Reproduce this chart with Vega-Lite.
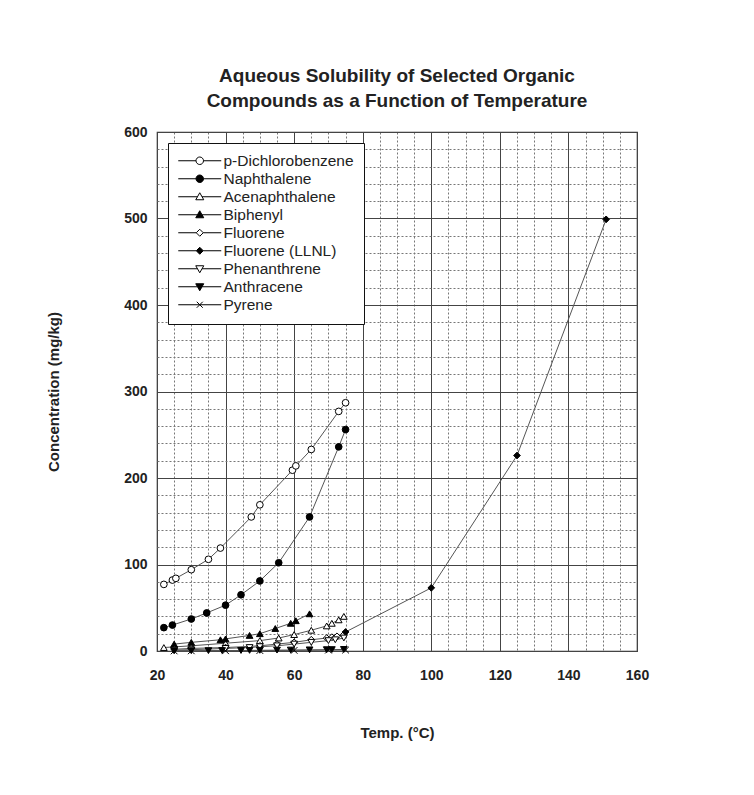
{
  "$schema": "https://vega.github.io/schema/vega-lite/v6.json",
  "autosize": "none",
  "width": 480,
  "height": 519,
  "padding": {"left": 157, "top": 132, "right": 117, "bottom": 144},
  "background": "white",
  "config": {"font": "Liberation Sans", "view": {"stroke": "#333", "strokeWidth": 1.2}},
  "title": {
    "text": ["Aqueous Solubility of Selected Organic", "Compounds as a Function of Temperature"],
    "fontSize": 19, "fontWeight": "bold", "color": "#222", "anchor": "middle", "offset": 14, "lineHeight": 25
  },
  "data": {"values": [
    {"compound": "p-Dichlorobenzene", "temp": 22, "conc": 77},
    {"compound": "p-Dichlorobenzene", "temp": 24.5, "conc": 82},
    {"compound": "p-Dichlorobenzene", "temp": 25.5, "conc": 84},
    {"compound": "p-Dichlorobenzene", "temp": 30, "conc": 94},
    {"compound": "p-Dichlorobenzene", "temp": 35, "conc": 106},
    {"compound": "p-Dichlorobenzene", "temp": 38.5, "conc": 119},
    {"compound": "p-Dichlorobenzene", "temp": 47.5, "conc": 155},
    {"compound": "p-Dichlorobenzene", "temp": 50, "conc": 169},
    {"compound": "p-Dichlorobenzene", "temp": 59.5, "conc": 209},
    {"compound": "p-Dichlorobenzene", "temp": 60.5, "conc": 214},
    {"compound": "p-Dichlorobenzene", "temp": 65, "conc": 233},
    {"compound": "p-Dichlorobenzene", "temp": 73, "conc": 277},
    {"compound": "p-Dichlorobenzene", "temp": 75, "conc": 287},
    {"compound": "Naphthalene", "temp": 22, "conc": 27},
    {"compound": "Naphthalene", "temp": 24.5, "conc": 30},
    {"compound": "Naphthalene", "temp": 30, "conc": 37},
    {"compound": "Naphthalene", "temp": 34.5, "conc": 44},
    {"compound": "Naphthalene", "temp": 40, "conc": 53},
    {"compound": "Naphthalene", "temp": 44.5, "conc": 65},
    {"compound": "Naphthalene", "temp": 50, "conc": 81},
    {"compound": "Naphthalene", "temp": 55.5, "conc": 102},
    {"compound": "Naphthalene", "temp": 64.5, "conc": 155},
    {"compound": "Naphthalene", "temp": 73, "conc": 236},
    {"compound": "Naphthalene", "temp": 75, "conc": 256},
    {"compound": "Acenaphthalene", "temp": 22, "conc": 4},
    {"compound": "Acenaphthalene", "temp": 30, "conc": 6},
    {"compound": "Acenaphthalene", "temp": 40, "conc": 9},
    {"compound": "Acenaphthalene", "temp": 50, "conc": 12},
    {"compound": "Acenaphthalene", "temp": 55.5, "conc": 15},
    {"compound": "Acenaphthalene", "temp": 60, "conc": 19},
    {"compound": "Acenaphthalene", "temp": 65, "conc": 24},
    {"compound": "Acenaphthalene", "temp": 69.5, "conc": 29},
    {"compound": "Acenaphthalene", "temp": 71, "conc": 32},
    {"compound": "Acenaphthalene", "temp": 73, "conc": 36},
    {"compound": "Acenaphthalene", "temp": 74.5, "conc": 40},
    {"compound": "Biphenyl", "temp": 25, "conc": 8},
    {"compound": "Biphenyl", "temp": 30, "conc": 10},
    {"compound": "Biphenyl", "temp": 38.5, "conc": 13},
    {"compound": "Biphenyl", "temp": 40, "conc": 14},
    {"compound": "Biphenyl", "temp": 47, "conc": 18},
    {"compound": "Biphenyl", "temp": 50, "conc": 20},
    {"compound": "Biphenyl", "temp": 54.5, "conc": 26},
    {"compound": "Biphenyl", "temp": 59, "conc": 32},
    {"compound": "Biphenyl", "temp": 60.5, "conc": 35},
    {"compound": "Biphenyl", "temp": 64.5, "conc": 43},
    {"compound": "Fluorene", "temp": 25, "conc": 2},
    {"compound": "Fluorene", "temp": 30, "conc": 3},
    {"compound": "Fluorene", "temp": 40, "conc": 4},
    {"compound": "Fluorene", "temp": 50, "conc": 6},
    {"compound": "Fluorene", "temp": 55, "conc": 8},
    {"compound": "Fluorene", "temp": 60, "conc": 10},
    {"compound": "Fluorene", "temp": 65, "conc": 13},
    {"compound": "Fluorene", "temp": 69.5, "conc": 15},
    {"compound": "Fluorene", "temp": 71, "conc": 16},
    {"compound": "Fluorene", "temp": 72.5, "conc": 17},
    {"compound": "Fluorene", "temp": 74.5, "conc": 19},
    {"compound": "Fluorene (LLNL)", "temp": 75, "conc": 22},
    {"compound": "Fluorene (LLNL)", "temp": 100, "conc": 73},
    {"compound": "Fluorene (LLNL)", "temp": 125, "conc": 226},
    {"compound": "Fluorene (LLNL)", "temp": 151, "conc": 499},
    {"compound": "Phenanthrene", "temp": 25, "conc": 1},
    {"compound": "Phenanthrene", "temp": 30, "conc": 1.5},
    {"compound": "Phenanthrene", "temp": 40, "conc": 3},
    {"compound": "Phenanthrene", "temp": 47, "conc": 4},
    {"compound": "Phenanthrene", "temp": 50, "conc": 5},
    {"compound": "Phenanthrene", "temp": 55, "conc": 6},
    {"compound": "Phenanthrene", "temp": 60, "conc": 8},
    {"compound": "Phenanthrene", "temp": 65, "conc": 10},
    {"compound": "Phenanthrene", "temp": 70, "conc": 12},
    {"compound": "Phenanthrene", "temp": 72, "conc": 13},
    {"compound": "Phenanthrene", "temp": 74.5, "conc": 15},
    {"compound": "Anthracene", "temp": 25, "conc": 0.2},
    {"compound": "Anthracene", "temp": 30, "conc": 0.3},
    {"compound": "Anthracene", "temp": 35, "conc": 0.4},
    {"compound": "Anthracene", "temp": 39, "conc": 0.5},
    {"compound": "Anthracene", "temp": 44.5, "conc": 0.6},
    {"compound": "Anthracene", "temp": 47, "conc": 0.7},
    {"compound": "Anthracene", "temp": 50, "conc": 0.8},
    {"compound": "Anthracene", "temp": 55, "conc": 1},
    {"compound": "Anthracene", "temp": 59, "conc": 1.1},
    {"compound": "Anthracene", "temp": 64.5, "conc": 1.3},
    {"compound": "Anthracene", "temp": 69.5, "conc": 1.5},
    {"compound": "Anthracene", "temp": 71, "conc": 1.6},
    {"compound": "Anthracene", "temp": 74.5, "conc": 1.8},
    {"compound": "Pyrene", "temp": 25, "conc": 0.1},
    {"compound": "Pyrene", "temp": 30, "conc": 0.2},
    {"compound": "Pyrene", "temp": 40, "conc": 0.3},
    {"compound": "Pyrene", "temp": 50, "conc": 0.5},
    {"compound": "Pyrene", "temp": 60, "conc": 0.7},
    {"compound": "Pyrene", "temp": 70, "conc": 1},
    {"compound": "Pyrene", "temp": 75, "conc": 1.1}
  ]},
  "encoding": {
    "x": {
      "field": "temp", "type": "quantitative",
      "scale": {"domain": [20, 160], "nice": false},
      "axis": {
        "values": [20,25,30,35,40,45,50,55,60,65,70,75,80,85,90,95,100,105,110,115,120,125,130,135,140,145,150,155,160],
        "labelExpr": "datum.value % 20 === 0 ? datum.label : ''",
        "grid": true,
        "gridColor": {"condition": {"test": "datum.value % 20 === 0", "value": "#444"}, "value": "#777"},
        "gridDash": {"condition": {"test": "datum.value % 20 === 0", "value": []}, "value": [2, 2]},
        "gridWidth": 1,
        "ticks": false, "domain": false,
        "labelFlush": false, "labelBound": false, "labelOverlap": false,
        "labelFontSize": 14, "labelFontWeight": "bold", "labelColor": "#222", "labelPadding": 17,
        "title": "Temp. (°C)", "titleFontSize": 15, "titleFontWeight": "bold", "titleColor": "#222", "titlePadding": 43
      }
    },
    "y": {
      "field": "conc", "type": "quantitative",
      "scale": {"domain": [0, 600], "nice": false},
      "axis": {
        "values": [0,20,40,60,80,100,120,140,160,180,200,220,240,260,280,300,320,340,360,380,400,420,440,460,480,500,520,540,560,580,600],
        "labelExpr": "datum.value % 100 === 0 ? datum.label : ''",
        "grid": true,
        "gridColor": {"condition": {"test": "datum.value % 100 === 0", "value": "#444"}, "value": "#777"},
        "gridDash": {"condition": {"test": "datum.value % 100 === 0", "value": []}, "value": [2, 2]},
        "gridWidth": 1,
        "ticks": false, "domain": false,
        "labelFlush": false, "labelBound": false, "labelOverlap": false,
        "labelFontSize": 14, "labelFontWeight": "bold", "labelColor": "#222", "labelPadding": 10,
        "title": "Concentration  (mg/kg)", "titleFontSize": 15, "titleFontWeight": "bold", "titleColor": "#222", "titlePadding": 62
      }
    }
  },
  "layer": [
    {
      "mark": {"type": "line", "color": "#555", "strokeWidth": 1},
      "encoding": {"detail": {"field": "compound"}}
    },
    {
      "mark": {"type": "point", "stroke": "black", "strokeWidth": 1, "opacity": 1, "size": 45},
      "encoding": {
        "shape": {
          "field": "compound", "type": "nominal",
          "scale": {
            "domain": ["p-Dichlorobenzene", "Naphthalene", "Acenaphthalene", "Biphenyl", "Fluorene", "Fluorene (LLNL)", "Phenanthrene", "Anthracene", "Pyrene"],
            "range": ["circle", "circle", "triangle-up", "triangle-up", "diamond", "diamond", "triangle-down", "triangle-down", "M-1,-1L1,1M-1,1L1,-1"]
          },
          "legend": null
        },
        "fill": {
          "field": "compound", "type": "nominal",
          "scale": {
            "domain": ["p-Dichlorobenzene", "Naphthalene", "Acenaphthalene", "Biphenyl", "Fluorene", "Fluorene (LLNL)", "Phenanthrene", "Anthracene", "Pyrene"],
            "range": ["white", "black", "white", "black", "white", "black", "white", "black", "white"]
          },
          "legend": null
        }
      }
    },
    {
      "transform": [{"filter": "datum.temp < 0"}],
      "mark": {"type": "point", "strokeWidth": 1, "opacity": 1, "size": 100},
      "encoding": {
        "shape": {
          "field": "compound", "type": "nominal",
          "scale": {
            "domain": ["p-Dichlorobenzene", "Naphthalene", "Acenaphthalene", "Biphenyl", "Fluorene", "Fluorene (LLNL)", "Phenanthrene", "Anthracene", "Pyrene"],
            "range": [
              "M-4.3,0H-0.75M0.75,0H4.3M0.75,0A0.75,0.75 0 1,1 -0.75,0A0.75,0.75 0 1,1 0.75,0Z",
              "M-4.3,0H-0.75M0.75,0H4.3M0.75,0A0.75,0.75 0 1,1 -0.75,0A0.75,0.75 0 1,1 0.75,0Z",
              "M-4.3,0H-0.46M0.46,0H4.3M0,-0.8L0.8,0.6L-0.8,0.6Z",
              "M-4.3,0H-0.46M0.46,0H4.3M0,-0.8L0.8,0.6L-0.8,0.6Z",
              "M-4.3,0H-0.7M0.7,0H4.3M0,-0.7L0.7,0L0,0.7L-0.7,0Z",
              "M-4.3,0H-0.7M0.7,0H4.3M0,-0.7L0.7,0L0,0.7L-0.7,0Z",
              "M-4.3,0H-0.46M0.46,0H4.3M0,0.8L0.8,-0.6L-0.8,-0.6Z",
              "M-4.3,0H-0.46M0.46,0H4.3M0,0.8L0.8,-0.6L-0.8,-0.6Z",
              "M-4.3,0H4.3M-0.6,-0.6L0.6,0.6M-0.6,0.6L0.6,-0.6"
            ]
          },
          "legend": {
            "title": null, "orient": "top-left", "offset": 11, "padding": 10,
            "strokeColor": "#111", "fillColor": "white",
            "labelFont": "Liberation Sans", "labelFontSize": 15.5, "labelColor": "#222",
            "symbolSize": 100, "symbolStrokeWidth": 1, "symbolOpacity": 1,
            "symbolOffset": 14, "labelOffset": 16, "rowPadding": 1
          }
        },
        "fill": {
          "field": "compound", "type": "nominal",
          "scale": {
            "domain": ["p-Dichlorobenzene", "Naphthalene", "Acenaphthalene", "Biphenyl", "Fluorene", "Fluorene (LLNL)", "Phenanthrene", "Anthracene", "Pyrene"],
            "range": ["white", "black", "white", "black", "white", "black", "white", "black", "white"]
          },
          "legend": {
            "title": null, "orient": "top-left", "offset": 11, "padding": 10,
            "strokeColor": "#111", "fillColor": "white",
            "labelFont": "Liberation Sans", "labelFontSize": 15.5, "labelColor": "#222",
            "symbolSize": 100, "symbolStrokeWidth": 1, "symbolOpacity": 1,
            "symbolOffset": 14, "labelOffset": 16, "rowPadding": 1
          }
        },
        "stroke": {
          "field": "compound", "type": "nominal",
          "scale": {
            "domain": ["p-Dichlorobenzene", "Naphthalene", "Acenaphthalene", "Biphenyl", "Fluorene", "Fluorene (LLNL)", "Phenanthrene", "Anthracene", "Pyrene"],
            "range": ["black", "black", "black", "black", "black", "black", "black", "black", "black"]
          },
          "legend": {
            "title": null, "orient": "top-left", "offset": 11, "padding": 10,
            "strokeColor": "#111", "fillColor": "white",
            "labelFont": "Liberation Sans", "labelFontSize": 15.5, "labelColor": "#222",
            "symbolSize": 100, "symbolStrokeWidth": 1, "symbolOpacity": 1,
            "symbolOffset": 14, "labelOffset": 16, "rowPadding": 1
          }
        }
      }
    }
  ],
  "resolve": {"scale": {"shape": "independent", "fill": "independent", "stroke": "independent"}}
}
